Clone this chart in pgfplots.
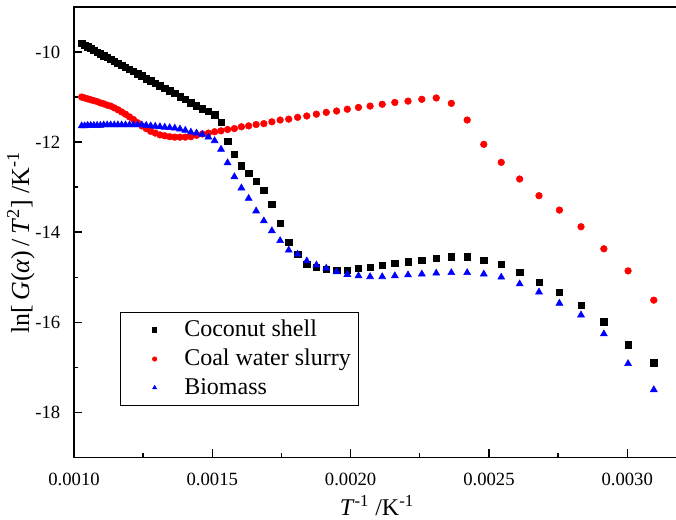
\documentclass[border=0pt]{standalone}
\usepackage{fontspec}
\setmainfont{Liberation Serif}
\usepackage{pgfplots}
\pgfplotsset{compat=1.18}
\usepackage{pgfplotstable}

% x = 1/T for T = 973 K down to 323 K in 10 K steps
\pgfplotstableread{
x          cs      cws     bio
0.0010277  -9.81   -11.00  -11.64
0.0010384  -9.85   -11.02  -11.64
0.0010493  -9.88   -11.04  -11.63
0.0010604  -9.92   -11.06  -11.63
0.0010718  -9.96   -11.08  -11.63
0.0010834  -10.00  -11.10  -11.63
0.0010953  -10.04  -11.13  -11.63
0.0011074  -10.08  -11.15  -11.62
0.0011198  -10.12  -11.18  -11.62
0.0011325  -10.16  -11.20  -11.62
0.0011455  -10.20  -11.24  -11.62
0.0011587  -10.25  -11.28  -11.62
0.0011723  -10.29  -11.33  -11.62
0.0011862  -10.34  -11.38  -11.62
0.0012005  -10.38  -11.44  -11.62
0.0012151  -10.43  -11.50  -11.62
0.0012300  -10.48  -11.57  -11.62
0.0012453  -10.53  -11.64  -11.62
0.0012610  -10.59  -11.70  -11.63
0.0012771  -10.64  -11.76  -11.64
0.0012937  -10.69  -11.80  -11.65
0.0013106  -10.75  -11.84  -11.66
0.0013280  -10.80  -11.86  -11.67
0.0013459  -10.86  -11.88  -11.68
0.0013643  -10.92  -11.89  -11.69
0.0013831  -10.99  -11.89  -11.71
0.0014025  -11.05  -11.89  -11.74
0.0014225  -11.13  -11.88  -11.78
0.0014430  -11.19  -11.85  -11.80
0.0014641  -11.26  -11.82  -11.83
0.0014859  -11.32  -11.80  -11.89
0.0015083  -11.39  -11.77  -11.97
0.0015314  -11.56  -11.75  -12.16
0.0015552  -11.98  -11.72  -12.46
0.0015798  -12.27  -11.70  -12.77
0.0016051  -12.53  -11.66  -13.02
0.0016313  -12.69  -11.64  -13.25
0.0016584  -12.87  -11.61  -13.53
0.0016863  -13.07  -11.59  -13.75
0.0017153  -13.38  -11.55  -13.97
0.0017452  -13.80  -11.51  -14.19
0.0017762  -14.22  -11.49  -14.40
0.0018083  -14.49  -11.45  -14.49
0.0018416  -14.71  -11.42  -14.64
0.0018762  -14.78  -11.38  -14.73
0.0019120  -14.82  -11.34  -14.80
0.0019493  -14.84  -11.31  -14.88
0.0019881  -14.84  -11.27  -14.94
0.0020284  -14.80  -11.23  -14.97
0.0020704  -14.78  -11.20  -14.99
0.0021142  -14.73  -11.16  -14.99
0.0021598  -14.69  -11.12  -14.97
0.0022075  -14.66  -11.09  -14.95
0.0022573  -14.62  -11.05  -14.93
0.0023095  -14.58  -11.02  -14.91
0.0023641  -14.55  -11.14  -14.90
0.0024213  -14.55  -11.51  -14.90
0.0024814  -14.62  -12.05  -14.93
0.0025445  -14.71  -12.45  -15.00
0.0026110  -14.89  -12.82  -15.15
0.0026810  -15.11  -13.19  -15.33
0.0027548  -15.33  -13.51  -15.58
0.0028329  -15.62  -13.88  -15.84
0.0029155  -15.99  -14.37  -16.26
0.0030030  -16.50  -14.86  -16.92
0.0030960  -16.90  -15.51  -17.50
}\data

\begin{document}
\fontsize{14}{16.8}\selectfont
\begin{tikzpicture}
\begin{axis}[
  name=ax,
  scale only axis,
  width=454.3pt, height=337.7pt,
  xmin=0.001, xmax=0.00319, ymin=-19, ymax=-9,
  xtick={0.001,0.0015,0.002,0.0025,0.003},
  xticklabels={0.0010,0.0015,0.0020,0.0025,0.0030},
  scaled x ticks=false,
  ytick={-10,-12,-14,-16,-18},
  yticklabels={-10,-12,-14,-16,-18},
  minor x tick num=1, minor y tick num=1,
  tick pos=left, tick align=inside,
  major tick length=6pt, minor tick length=3pt,
  every tick/.style={black, line width=1pt},
  axis line style={line width=1.1pt},
  xticklabel style={yshift=-7pt},
  yticklabel style={xshift=-5.5pt},
  xlabel={\textit{T}\textsuperscript{-1} /K\textsuperscript{-1}},
  ylabel={ln[\,\textit{G}(\textit{α})\,/\,\textit{T}\textsuperscript{2}]\ /K\textsuperscript{-1}},
  xlabel style={font=\fontsize{18}{21.6}\selectfont, yshift=2pt},
  ylabel style={font=\fontsize{19.5}{23.4}\selectfont, yshift=-9pt, xshift=-8pt},
  legend cell align=left,
  legend style={at={(0.076,0.323)}, anchor=north west, draw=black, line width=0.6pt,
    font=\fontsize{18}{21.6}\selectfont,
    row sep=3.2pt, inner xsep=4pt, inner ysep=4pt},
  legend image code/.code={\path (0,0) (1.45cm,0);
    \draw[mark size=1.6pt] plot coordinates {(0.75cm,0cm)};},
]
\addplot[only marks, mark=square*, mark size=2.4pt, black] table[x=x, y=cs] {\data};
\addlegendentry{Coconut shell}
\addplot[only marks, mark=*, mark size=2.5pt, red] table[x=x, y=cws] {\data};
\addlegendentry{Coal water slurry}
\addplot[only marks, mark=triangle*, mark size=3pt, blue] table[x=x, y=bio] {\data};
\addlegendentry{Biomass}
\end{axis}
\pgfresetboundingbox
\path ([xshift=-55.5pt,yshift=-46.3pt]ax.south west) rectangle ([xshift=-2.85pt,yshift=5.25pt]ax.north east);
\end{tikzpicture}
\end{document}
